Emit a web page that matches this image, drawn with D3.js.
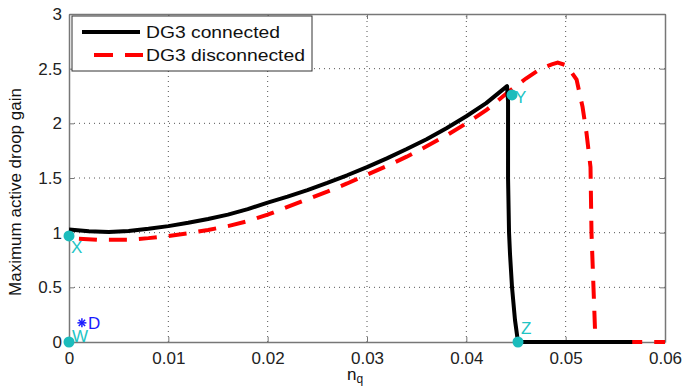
<!DOCTYPE html>
<html><head><meta charset="utf-8">
<script src="https://cdn.jsdelivr.net/npm/d3@7/dist/d3.min.js"></script>
<style>
body{margin:0;background:#fff;}
svg{display:block;font-family:"Liberation Sans",Arial,sans-serif;}
</style></head>
<body><svg id="c" width="684" height="387"></svg>
<script>
// ---- data ----
const xTicks = [0, 0.01, 0.02, 0.03, 0.04, 0.05, 0.06];
const xTickLabels = ["0", "0.01", "0.02", "0.03", "0.04", "0.05", "0.06"];
const yTicks = [0, 0.5, 1, 1.5, 2, 2.5, 3];
const yTickLabels = ["0", "0.5", "1", "1.5", "2", "2.5", "3"];

const connectedNq = [0, 0.002, 0.004, 0.006, 0.008, 0.010, 0.012, 0.014, 0.016, 0.018, 0.020, 0.022, 0.024, 0.026, 0.028, 0.030, 0.032, 0.034, 0.036, 0.038, 0.040, 0.042, 0.0441, 0.0442, 0.0442, 0.0443, 0.0444, 0.0446, 0.0449, 0.0452, 0.0567];
const connectedGain = [1.03, 1.012, 1.006, 1.015, 1.035, 1.06, 1.09, 1.125, 1.165, 1.215, 1.275, 1.33, 1.39, 1.455, 1.525, 1.60, 1.68, 1.765, 1.855, 1.955, 2.065, 2.185, 2.34, 2.2, 1.5, 1.0, 0.8, 0.5, 0.2, 0, 0];

const disconnectedNq = [0.001, 0.003, 0.006, 0.008, 0.010, 0.012, 0.014, 0.016, 0.018, 0.020, 0.022, 0.024, 0.026, 0.028, 0.030, 0.032, 0.034, 0.036, 0.038, 0.040, 0.042, 0.044, 0.046, 0.0475, 0.0486, 0.0492, 0.0501, 0.0511, 0.0517, 0.0521, 0.0525, 0.0526, 0.0528, 0.0530, 0.060];
const disconnectedGain = [0.945, 0.935, 0.935, 0.95, 0.97, 0.995, 1.025, 1.06, 1.105, 1.165, 1.235, 1.305, 1.375, 1.45, 1.53, 1.61, 1.695, 1.79, 1.89, 2.00, 2.12, 2.27, 2.41, 2.50, 2.54, 2.555, 2.53, 2.40, 2.15, 1.91, 1.6, 1.0, 0.5, 0, 0];

const pointNames = ["W", "X", "Y", "Z"];
const pointNq = [0, 0, 0.0446, 0.0452];
const pointGain = [0, 0.97, 2.26, 0];
const starName = "D";
const starNq = 0.0013;
const starGain = 0.175;

const seriesNames = ["DG3 connected", "DG3 disconnected"];
const xLabel = "n";
const xLabelSub = "q";
const yLabel = "Maximum active droop gain";

// ---- layout ----
const svg = d3.select("#c");
const L = 69, R = 665, T = 14, B = 342;
const x = d3.scaleLinear().domain([0, 0.06]).range([L, R]);
const y = d3.scaleLinear().domain([0, 3]).range([B, T]);

// grid
const grid = svg.append("g").attr("stroke", "#555").attr("stroke-width", 1).attr("stroke-dasharray", "1,4");
xTicks.slice(1, -1).forEach(t => grid.append("line").attr("x1", x(t)).attr("x2", x(t)).attr("y1", B).attr("y2", T));
yTicks.slice(1, -1).forEach(t => grid.append("line").attr("y1", y(t)).attr("y2", y(t)).attr("x1", L).attr("x2", R));

// axes
const fmtX = (d, i) => xTickLabels[i];
const fmtY = (d, i) => yTickLabels[i];
const ax = svg.append("g").attr("transform", `translate(0,${B})`)
  .call(d3.axisBottom(x).tickValues(xTicks).tickFormat(fmtX).tickSizeInner(-5).tickSizeOuter(0).tickPadding(10));
const ay = svg.append("g").attr("transform", `translate(${L},0)`)
  .call(d3.axisLeft(y).tickValues(yTicks).tickFormat(fmtY).tickSizeInner(-5).tickSizeOuter(0).tickPadding(7));
const axTop = svg.append("g").attr("transform", `translate(0,${T})`)
  .call(d3.axisTop(x).tickValues(xTicks).tickFormat("").tickSizeInner(-5).tickSizeOuter(0));
const ayR = svg.append("g").attr("transform", `translate(${R},0)`)
  .call(d3.axisRight(y).tickValues(yTicks).tickFormat("").tickSizeInner(-5).tickSizeOuter(0));
[ax, ay, axTop, ayR].forEach(g => {
  g.select(".domain").attr("stroke", "#777").attr("stroke-width", 1.5);
  g.selectAll(".tick line").attr("stroke", "#777");
  g.selectAll("text").attr("font-size", 17).attr("fill", "#222").attr("font-family", "Liberation Sans, Arial, sans-serif");
});

// lines
const line = d3.line().x(d => x(d[0])).y(d => y(d[1]));
svg.append("path").datum(disconnectedNq.map((v, i) => [v, disconnectedGain[i]]))
  .attr("d", line).attr("fill", "none").attr("stroke", "#ff0000").attr("stroke-width", 4)
  .attr("stroke-dasharray", "18,12");
svg.append("path").datum(connectedNq.map((v, i) => [v, connectedGain[i]]))
  .attr("d", line).attr("fill", "none").attr("stroke", "#000").attr("stroke-width", 4)
  .attr("stroke-linejoin", "round");

// points
const cyan = "#1bbcbc";
pointNames.forEach((n, i) => {
  svg.append("circle").attr("cx", x(pointNq[i])).attr("cy", y(pointGain[i])).attr("r", 5.5).attr("fill", cyan);
});
const lab = svg.append("g").attr("font-size", 17).attr("fill", "#22c4c4");
lab.append("text").attr("x", x(pointNq[0]) + 3).attr("y", y(pointGain[0])).text(pointNames[0]);
lab.append("text").attr("x", x(pointNq[1]) + 2).attr("y", y(pointGain[1]) + 17).text(pointNames[1]);
lab.append("text").attr("x", x(pointNq[2]) + 3).attr("y", y(pointGain[2]) + 8).text(pointNames[2]);
lab.append("text").attr("x", x(pointNq[3]) + 3).attr("y", y(pointGain[3]) - 8).text(pointNames[3]);

// star D
const sx = x(starNq), sy = y(starGain);
const star = svg.append("g").attr("stroke", "#1a1aff").attr("stroke-width", 1.5);
[[0, 4.5], [4.5, 0], [3.2, 3.2], [3.2, -3.2]].forEach(([dx, dy]) =>
  star.append("line").attr("x1", sx - dx).attr("y1", sy - dy).attr("x2", sx + dx).attr("y2", sy + dy));
svg.append("text").attr("x", sx + 6).attr("y", sy + 6).attr("font-size", 17).attr("fill", "#1a1aff").text(starName);

// legend
const lg = svg.append("g");
lg.append("rect").attr("x", 72).attr("y", 16).attr("width", 240).attr("height", 55).attr("fill", "#fff").attr("stroke", "#333").attr("stroke-width", 1);
lg.append("line").attr("x1", 82).attr("x2", 140).attr("y1", 32).attr("y2", 32).attr("stroke", "#000").attr("stroke-width", 4);
lg.append("line").attr("x1", 94).attr("x2", 143).attr("y1", 55).attr("y2", 55).attr("stroke", "#ff0000").attr("stroke-width", 4).attr("stroke-dasharray", "19,12");
lg.append("text").attr("x", 146).attr("y", 38).attr("font-size", 17).attr("fill", "#111").attr("textLength", 134).attr("lengthAdjust", "spacingAndGlyphs").text(seriesNames[0]);
lg.append("text").attr("x", 146).attr("y", 61).attr("font-size", 17).attr("fill", "#111").attr("textLength", 159).attr("lengthAdjust", "spacingAndGlyphs").text(seriesNames[1]);

// axis labels
const xl = svg.append("text").attr("x", 347).attr("y", 380).attr("font-size", 17).attr("fill", "#111");
xl.append("tspan").text(xLabel);
xl.append("tspan").attr("font-size", 12).attr("dy", 3).text(xLabelSub);
svg.append("text").attr("transform", "translate(21,192) rotate(-90)").attr("text-anchor", "middle")
  .attr("font-size", 17).attr("fill", "#111").text(yLabel);
</script></body></html>
